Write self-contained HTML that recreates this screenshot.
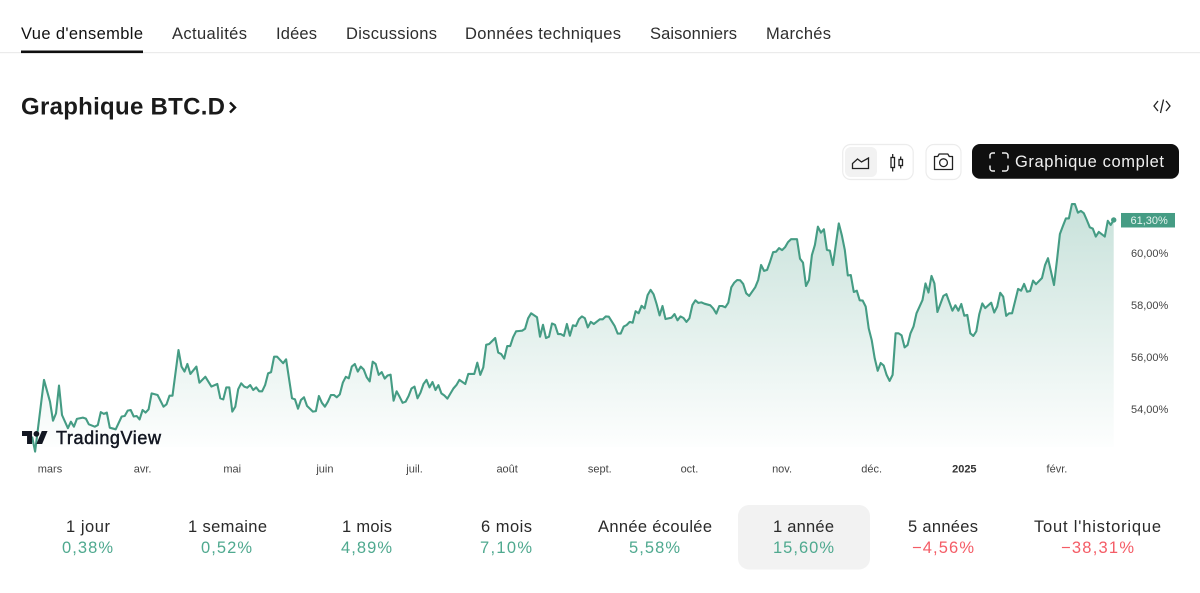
<!DOCTYPE html>
<html lang="fr">
<head>
<meta charset="utf-8">
<title>Graphique BTC.D</title>
<style>
html,body{margin:0;padding:0;background:#fff;width:1200px;height:593px;overflow:hidden}
svg{display:block;font-family:"Liberation Sans",sans-serif}
.nav{font-size:16.5px;fill:#2e2e2e}
.lab{font-size:16.5px;fill:#2a2a2a}
.val{font-size:16.5px}
.g{fill:#4fa98f}
.r{fill:#f45c66}
.ax{font-size:11px;fill:#444}
</style>
</head>
<body>
<svg id="root" width="1200" height="593" viewBox="0 0 1200 593" xmlns="http://www.w3.org/2000/svg">
<defs>
<linearGradient id="areaFill" gradientUnits="userSpaceOnUse" x1="0" y1="200" x2="0" y2="447">
<stop offset="0" stop-color="#459c84" stop-opacity="0.3"/>
<stop offset="1" stop-color="#459c84" stop-opacity="0.01"/>
</linearGradient>
</defs>

<g>
<rect x="0" y="52" width="1200" height="1.2" fill="#ebebeb"/>
<text class="nav" x="21" y="39" textLength="122" lengthAdjust="spacing" style="fill:#111">Vue d'ensemble</text>
<text class="nav" x="172" y="39" textLength="75" lengthAdjust="spacing">Actualités</text>
<text class="nav" x="276" y="39" textLength="41" lengthAdjust="spacing">Idées</text>
<text class="nav" x="346" y="39" textLength="91" lengthAdjust="spacing">Discussions</text>
<text class="nav" x="465" y="39" textLength="156" lengthAdjust="spacing">Données techniques</text>
<text class="nav" x="650" y="39" textLength="87" lengthAdjust="spacing">Saisonniers</text>
<text class="nav" x="766" y="39" textLength="65" lengthAdjust="spacing">Marchés</text>
<rect x="21" y="50.5" width="122" height="2.6" fill="#0f0f0f"/>
</g>

<text x="21" y="114.5" font-size="24" font-weight="700" fill="#1a1a1a" textLength="204" lengthAdjust="spacing">Graphique BTC.D</text>
<path d="M230 102.5l5 5-5 5" fill="none" stroke="#131313" stroke-width="2.4"/>

<path d="M1158 101l-4 5 4 5M1166 101l4 5-4 5M1163.500 99.500l-3 13.500" fill="none" stroke="#222" stroke-width="1.3"/>

<g>
<rect x="842.700" y="144.500" width="70.500" height="35" rx="8" fill="#fff" stroke="#ececec" stroke-width="1.200"/>
<rect x="845" y="147" width="32" height="30" rx="6" fill="#f2f2f2"/>
<path d="M852.500 168.500v-5l5-4.500 4 3 7-4v10.500z" fill="none" stroke="#222" stroke-width="1.300"/>
<g fill="none" stroke="#222" stroke-width="1.300">
<rect x="891" y="157.500" width="3.500" height="10"/><path d="M892.700 154v3.500M892.700 167.500v4"/>
<rect x="899" y="159.500" width="3.500" height="6"/><path d="M900.700 156.500v3M900.700 165.500v3"/>
</g>
</g>

<rect x="926" y="144.500" width="35" height="35" rx="8" fill="#fff" stroke="#ececec" stroke-width="1.200"/>
<g fill="none" stroke="#222" stroke-width="1.300">
<path d="M934.500 156.500h3.200l1.500-2.500h8.600l1.500 2.500h3.200v13h-18z" stroke-linejoin="round"/>
<circle cx="943.500" cy="162.700" r="3.900"/>
</g>

<rect x="972" y="144" width="207" height="34.700" rx="8" fill="#0f0f0f"/>
<path d="M990 158.500v-3a2.500 2.500 0 0 1 2.500-2.500h2.500M1002 153h3.500a2.500 2.500 0 0 1 2.500 2.500v3M1008 165.500v3a2.500 2.500 0 0 1-2.500 2.500h-3.500M995 171h-2.500a2.500 2.500 0 0 1-2.500-2.500v-3" fill="none" stroke="#eee" stroke-width="1.500"/>
<text x="1015" y="167" font-size="16.5" fill="#f0f0f0" textLength="149" lengthAdjust="spacing">Graphique complet</text>

<g id="plot">
<path id="area" fill="url(#areaFill)"/>
<path id="line" fill="none" stroke="#459c84" stroke-width="2.100" stroke-linejoin="round"/>
<circle id="lastDot" r="2.700" fill="#459c84"/>
<g id="xAxis"></g>
<g id="yAxis"></g>
</g>

<g>
<g transform="translate(22 428.100) scale(0.72)" fill="#131722">
<path d="M14 22H7V11H0V4h14v18zM28 22h-8l7.500-18h8L28 22z"/><circle cx="20" cy="8" r="4"/>
</g>
<text x="56" y="444" font-size="18" fill="#131722" stroke="#131722" stroke-width="0.500" textLength="105" lengthAdjust="spacing">TradingView</text>
</g>

<g>
<rect x="738" y="505" width="132" height="64.500" rx="11" fill="#f2f2f2"/>
<g><text class="lab" x="66" y="532" textLength="44" lengthAdjust="spacing">1 jour</text><text class="val g" x="62" y="553" textLength="51" lengthAdjust="spacing">0,38%</text></g>
<g><text class="lab" x="188" y="532" textLength="79" lengthAdjust="spacing">1 semaine</text><text class="val g" x="201" y="553" textLength="51" lengthAdjust="spacing">0,52%</text></g>
<g><text class="lab" x="342" y="532" textLength="50" lengthAdjust="spacing">1 mois</text><text class="val g" x="341" y="553" textLength="51" lengthAdjust="spacing">4,89%</text></g>
<g><text class="lab" x="481" y="532" textLength="51" lengthAdjust="spacing">6 mois</text><text class="val g" x="480" y="553" textLength="52" lengthAdjust="spacing">7,10%</text></g>
<g><text class="lab" x="598" y="532" textLength="114" lengthAdjust="spacing">Année écoulée</text><text class="val g" x="629" y="553" textLength="51" lengthAdjust="spacing">5,58%</text></g>
<g><text class="lab" x="773" y="532" textLength="61" lengthAdjust="spacing">1 année</text><text class="val g" x="773" y="553" textLength="61" lengthAdjust="spacing">15,60%</text></g>
<g><text class="lab" x="908" y="532" textLength="70" lengthAdjust="spacing">5 années</text><text class="val r" x="912" y="553" textLength="62" lengthAdjust="spacing">−4,56%</text></g>
<g><text class="lab" x="1034" y="532" textLength="127" lengthAdjust="spacing">Tout l'historique</text><text class="val r" x="1061" y="553" textLength="73" lengthAdjust="spacing">−38,31%</text></g>
</g>
</svg>

<script>
// Day offsets counted from 1 March 2024
const days = [-6,-5,-2,0,1,2,3,4,6,7,8,9,11,12,13,15,16,17,18,19,20,22,24,25,26,27,28,29,30,31,32,33,34,36,38,39,40,41,43,44,45,46,47,49,50,52,54,56,57,58,59,60,61,62,63,64,65,66,67,68,69,70,71,72,73,74,75,76,78,79,81,82,83,
84,85,86,88,89,90,91,92,93,94,95,96,97,98,99,100,101,102,103,104,105,106,107,108,109,110,111,112,113,114,115,116,117,118,119,120,121,122,123,124,125,126,127,128,129,130,131,132,133,135,136,137,139,140,142,143,144,145,146,147,149,150,151,152,153,154,155,156,157,158,159,160,161,163,164,165,166,167,168,169,170,171,172,173,174,175,176,177,178,179,180,181,182,184,
185,186,187,189,190,191,192,193,194,195,196,197,198,199,200,201,202,203,204,205,206,208,209,210,211,212,213,214,215,216,217,218,219,221,222,223,224,225,226,227,228,229,230,231,232,233,234,236,237,238,239,240,241,242,243,244,245,246,247,248,250,251,252,253,254,255,256,257,258,259,260,261,262,264,265,266,267,268,269,270,271,272,273,274,275,276,277,278,279,280,281,282,283,284,
285,286,287,288,289,290,292,293,294,295,296,297,299,300,302,303,304,305,306,307,308,309,310,311,312,313,315,316,317,318,319,320,321,322,324,325,326,327,328,329,330,332,333,334,336,337,338,339,340,341,342,343,344,345,346,347,348,349,350,351,353,354,355,356];
const dominance = [52.94,52.36,55.12,54.28,53.55,53.83,54.90,53.77,53.26,53.51,53.32,53.62,53.67,53.63,53.41,53.32,53.38,53.88,53.81,53.86,53.28,53.22,53.71,53.73,53.94,53.96,53.71,53.73,53.60,53.96,53.86,53.99,54.60,54.54,54.09,54.18,54.51,54.51,56.27,55.63,55.44,55.73,55.35,55.63,55.01,55.24,54.86,54.96,54.41,54.37,54.83,54.83,53.90,54.09,54.76,54.99,54.86,54.82,54.92,54.73,54.83,54.68,54.68,54.92,55.37,55.42,56.01,56.01,55.76,55.91,54.41,54.37,54.01,
54.35,54.45,54.12,53.90,53.92,54.50,54.24,54.09,54.28,54.54,54.54,54.45,54.56,55.01,55.24,55.18,55.63,55.73,55.44,55.63,55.52,55.22,55.06,55.82,55.73,55.31,55.42,55.17,55.29,55.32,54.32,54.68,54.47,54.24,54.28,54.50,54.79,54.86,54.41,54.63,54.96,55.12,54.83,55.04,54.73,54.92,54.60,54.52,54.40,54.79,54.92,55.12,54.96,55.35,55.35,55.78,55.31,55.60,56.47,56.50,56.73,56.17,56.11,55.94,56.42,56.42,56.76,56.99,57.00,57.01,57.09,57.49,57.68,57.53,56.78,57.24,56.73,56.78,57.29,57.24,56.88,56.88,56.81,57.27,56.82,57.22,57.19,57.45,57.56,57.49,57.14,57.35,57.27,57.45,
57.45,57.56,57.55,57.19,56.90,56.90,57.17,57.23,57.35,57.32,57.76,57.68,57.97,57.87,58.38,58.58,58.41,58.04,57.60,57.96,57.46,57.51,57.65,57.41,57.56,57.50,57.35,57.49,58.00,58.18,58.08,58.10,58.05,57.99,57.86,57.67,57.96,57.96,57.91,58.09,58.68,58.86,58.96,58.95,58.81,58.45,58.35,58.68,58.96,59.54,59.31,59.35,59.67,60.03,60.05,60.19,60.11,60.22,60.42,60.53,60.53,59.78,59.63,58.73,58.96,59.92,60.31,61.01,60.78,60.91,60.12,60.09,59.54,61.14,60.69,60.12,59.14,59.15,58.50,58.55,58.18,58.17,57.94,57.10,56.65,55.95,55.47,55.77,55.67,55.31,55.08,55.31,56.91,56.91,
56.83,56.37,56.46,56.91,57.17,57.68,58.19,58.83,58.48,59.12,58.83,57.73,58.35,58.42,57.78,57.99,57.78,58.04,57.59,57.62,56.91,56.81,56.99,57.65,58.06,57.88,58.09,57.71,57.94,58.47,58.32,57.58,57.68,57.68,58.62,58.55,58.81,58.51,58.54,58.94,58.80,59.04,59.53,59.80,58.77,59.73,60.73,61.04,61.33,61.33,61.88,61.88,61.55,61.62,61.53,61.27,60.99,60.94,60.63,60.81,60.63,61.24,61.08,61.27];
const xTickLabels = ["mars","avr.","mai","juin","juil.","août","sept.","oct.","nov.","déc.","2025","févr."];
const xTickDays = [0,31,61,92,122,153,184,214,245,275,306,337];
const yTickValues = [54,56,58,60];
const yTickLabels = ["54,00%","56,00%","58,00%","60,00%"];
const lastPriceLabel = "61,30%";

const NS = "http://www.w3.org/2000/svg";
const xScale = d => 50 + d * 2.988;
const yScale = v => 253 + (60 - v) * 26;
const baseY = 447;

const pts = days.map((d, i) => xScale(d).toFixed(1) + " " + yScale(dominance[i]).toFixed(1));
document.getElementById("line").setAttribute("d", "M" + pts.join("L"));
document.getElementById("area").setAttribute("d",
  "M" + xScale(days[0]).toFixed(1) + " " + baseY + "L" + pts.join("L") + "L" + xScale(days[days.length - 1]).toFixed(1) + " " + baseY + "Z");
const lastX = xScale(days[days.length - 1]);
const lastY = yScale(dominance[dominance.length - 1]);
const dot = document.getElementById("lastDot");
dot.setAttribute("cx", lastX);
dot.setAttribute("cy", lastY);

const xAxis = document.getElementById("xAxis");
xTickLabels.forEach((label, i) => {
  const t = document.createElementNS(NS, "text");
  t.setAttribute("class", "ax");
  t.setAttribute("x", xScale(xTickDays[i]));
  t.setAttribute("y", 472.500);
  t.setAttribute("text-anchor", "middle");
  
  
  if (label === "2025") { t.setAttribute("font-weight", "700"); t.style.fill = "#333"; }
  t.textContent = label;
  xAxis.appendChild(t);
});

const yAxis = document.getElementById("yAxis");
yTickValues.forEach((v, i) => {
  const t = document.createElementNS(NS, "text");
  t.setAttribute("class", "ax");
  t.setAttribute("x", 1131);
  t.setAttribute("y", yScale(v) + 4);
  
  
  t.textContent = yTickLabels[i];
  yAxis.appendChild(t);
});

const badge = document.createElementNS(NS, "rect");
badge.setAttribute("x", 1121);
badge.setAttribute("y", lastY - 7);
badge.setAttribute("width", 54);
badge.setAttribute("height", 14.500);
badge.setAttribute("fill", "#459c84");


yAxis.appendChild(badge);

const badgeText = document.createElementNS(NS, "text");
badgeText.setAttribute("x", 1130.500);
badgeText.setAttribute("y", lastY + 4);
badgeText.setAttribute("font-size", "11");
badgeText.setAttribute("fill", "#e6f3ef");


badgeText.textContent = lastPriceLabel;
yAxis.appendChild(badgeText);
</script>
</body>
</html>
